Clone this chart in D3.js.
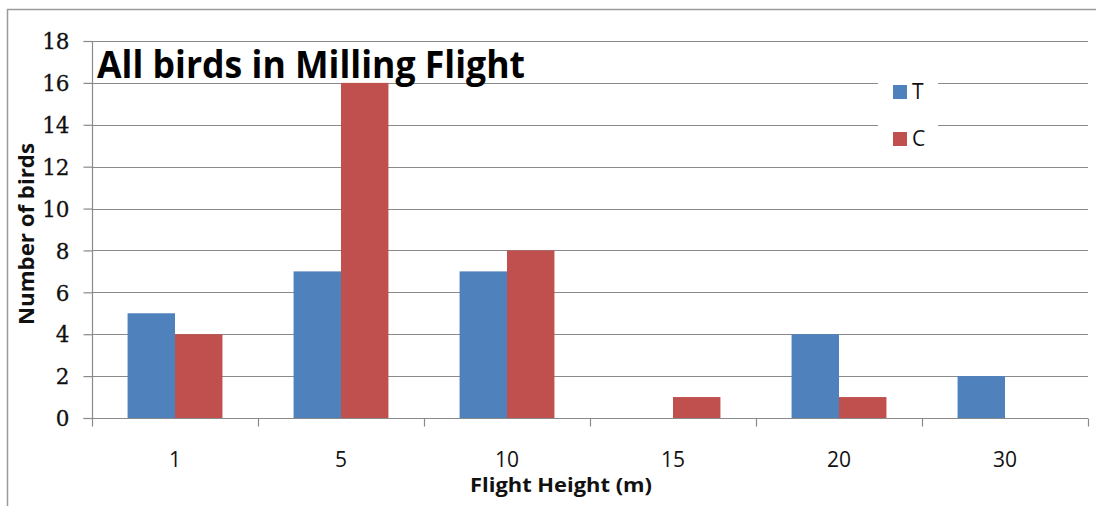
<!DOCTYPE html>
<html>
<head>
<meta charset="utf-8">
<script src="https://cdn.jsdelivr.net/npm/d3@7"></script>
<style>
  html, body { margin: 0; padding: 0; background: #fff; }
  svg { display: block; }
</style>
</head>
<body>
<svg id="chart" width="1096" height="506"></svg>
<script>
// Flight heights (m) and bird counts per treatment
const heights = ["1", "5", "10", "15", "20", "30"];
const seriesNames = ["T", "C"];
const valuesT = [5, 7, 7, 0, 4, 2];
const valuesC = [4, 16, 8, 1, 1, 0];
const yTicks = [0, 2, 4, 6, 8, 10, 12, 14, 16, 18];
const colors = { T: "#4F81BD", C: "#C0504D" };

const rows = heights.map((h, i) => ({ h, T: valuesT[i], C: valuesC[i] }));

const svg = d3.select("#chart");
const plot = { left: 92, right: 1088, top: 41, bottom: 418 };
const gridColor = "#8a8a8a";

// outer chart frame
svg.append("rect")
  .attr("x", 7.5).attr("y", 9.5)
  .attr("width", 1200).attr("height", 600)
  .attr("fill", "#fff")
  .attr("stroke", "#9a9a9a").attr("stroke-width", 1.5);

const y = d3.scaleLinear().domain([0, 18]).range([plot.bottom, plot.top]);
const x0 = d3.scaleBand().domain(heights).range([plot.left, plot.right]).padding(0);
const bw = x0.bandwidth();
const barW = bw / 3.5;
const x1 = d3.scaleBand().domain(seriesNames)
  .range([barW * 0.75, bw - barW * 0.75]).padding(0);

// horizontal gridlines
svg.append("g")
  .selectAll("line")
  .data(yTicks.filter(d => d > 0))
  .join("line")
  .attr("x1", plot.left).attr("x2", plot.right)
  .attr("y1", d => Math.round(y(d)) + 0.5).attr("y2", d => Math.round(y(d)) + 0.5)
  .attr("stroke", gridColor).attr("stroke-width", 1.2);

// bars
const groups = svg.append("g")
  .selectAll("g")
  .data(rows)
  .join("g")
  .attr("transform", d => `translate(${x0(d.h)},0)`);

groups.selectAll("rect")
  .data(d => seriesNames.map(s => ({ s, v: d[s] })))
  .join("rect")
  .attr("x", d => x1(d.s))
  .attr("y", d => y(d.v))
  .attr("width", x1.bandwidth())
  .attr("height", d => y(0) - y(d.v))
  .attr("fill", d => colors[d.s]);

// y axis
const yAxis = svg.append("g")
  .attr("transform", `translate(${plot.left + 0.5},0)`)
  .call(d3.axisLeft(y).tickValues(yTicks).tickSize(9).tickPadding(14).tickFormat(d3.format("d")));
yAxis.selectAll("path, line").attr("stroke", gridColor).attr("stroke-width", 1.2);
yAxis.select(".domain").attr("d", `M-9,${plot.bottom + 0.5}H0V${plot.top + 0.5}H-9`);
yAxis.selectAll("text")
  .attr("font-family", "'DejaVu Serif', serif")
  .attr("font-size", 21.5)
  .attr("fill", "#111")
  .attr("stroke", "#111").attr("stroke-width", 0.3)
  .attr("dy", "0.36em");

// x axis with ticks on category boundaries
const xAxis = svg.append("g")
  .attr("transform", `translate(0,${plot.bottom + 0.5})`);
xAxis.append("line")
  .attr("x1", plot.left).attr("x2", plot.right)
  .attr("stroke", gridColor).attr("stroke-width", 1.2);
const boundaries = heights.map(h => x0(h)).concat([plot.right]);
xAxis.selectAll("line.tick")
  .data(boundaries)
  .join("line")
  .attr("class", "tick")
  .attr("x1", d => Math.round(d) + 0.5).attr("x2", d => Math.round(d) + 0.5)
  .attr("y1", 0).attr("y2", 8)
  .attr("stroke", gridColor).attr("stroke-width", 1.2);
xAxis.selectAll("text")
  .data(heights)
  .join("text")
  .attr("x", d => x0(d) + bw / 2)
  .attr("y", 48)
  .attr("text-anchor", "middle")
  .attr("font-family", "'Open Sans', sans-serif")
  .attr("font-size", 21)
  .attr("fill", "#111")
  .text(d => d);

// axis titles
svg.append("text")
  .attr("x", 561).attr("y", 492)
  .attr("text-anchor", "middle")
  .attr("font-family", "'Open Sans', sans-serif")
  .attr("font-weight", "bold")
  .attr("font-size", 20)
  .attr("textLength", 182).attr("lengthAdjust", "spacingAndGlyphs")
  .attr("fill", "#111")
  .text("Flight Height (m)");

svg.append("text")
  .attr("transform", "translate(34,234) rotate(-90)")
  .attr("text-anchor", "middle")
  .attr("font-family", "'Open Sans', sans-serif")
  .attr("font-weight", "bold")
  .attr("font-size", 22)
  .attr("textLength", 182).attr("lengthAdjust", "spacingAndGlyphs")
  .attr("fill", "#111")
  .text("Number of birds");

// chart title
svg.append("text")
  .attr("x", 97).attr("y", 78)
  .attr("font-family", "'Open Sans', sans-serif")
  .attr("font-weight", "bold")
  .attr("font-size", 38)
  .attr("textLength", 428).attr("lengthAdjust", "spacingAndGlyphs")
  .attr("fill", "#000")
  .text("All birds in Milling Flight");

// legend
const legend = svg.append("g");
legend.append("rect")
  .attr("x", 878).attr("y", 68).attr("width", 60).attr("height", 88)
  .attr("fill", "#fff");
const items = legend.selectAll("g")
  .data(seriesNames)
  .join("g")
  .attr("transform", (d, i) => `translate(893,${85 + i * 47})`);
items.append("rect")
  .attr("width", 14).attr("height", 14)
  .attr("fill", d => colors[d]);
items.append("text")
  .attr("x", 19).attr("y", 14)
  .attr("font-family", "'Open Sans', sans-serif")
  .attr("font-size", 21)
  .attr("fill", "#111")
  .text(d => d);
</script>
</body>
</html>
